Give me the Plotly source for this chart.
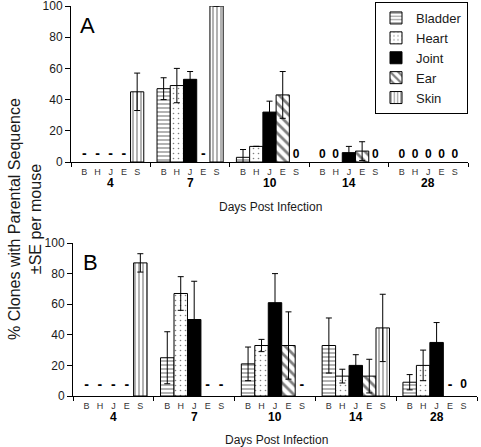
import plotly.graph_objects as go

# ---------------- data ----------------
days = ["4", "7", "10", "14", "28"]
organs = ["Bladder", "Heart", "Joint", "Ear", "Skin"]
organ_letters = ["B", "H", "J", "E", "S"]
yticks = [0, 20, 40, 60, 80, 100]

# Panel A  (None = no bar; label list gives the "-" / "0" markers)
a_bladder = [None, 47, 3, None, None]
a_bladder_se = [None, 7, 5, None, None]
a_bladder_lbl = ["-", "", "", "0", "0"]
a_heart = [None, 49, 10, None, None]
a_heart_se = [None, 11, None, None, None]
a_heart_lbl = ["-", "", "", "0", "0"]
a_joint = [None, 53, 32, 6, None]
a_joint_se = [None, 5, 7, 4, None]
a_joint_lbl = ["-", "", "", "", "0"]
a_ear = [None, None, 43, 7, None]
a_ear_se = [None, None, 15, 6, None]
a_ear_lbl = ["-", "-", "", "", "0"]
a_skin = [45, 100, None, None, None]
a_skin_se = [12, None, None, None, None]
a_skin_lbl = ["", "", "0", "0", "0"]

# Panel B
b_bladder = [None, 25, 21, 33, 9]
b_bladder_se = [None, 17, 11, 18, 5]
b_bladder_lbl = ["-", "", "", "", ""]
b_heart = [None, 67, 33, 13, 20]
b_heart_se = [None, 11, 4, 4.5, 10]
b_heart_lbl = ["-", "", "", "", ""]
b_joint = [None, 50, 61, 20, 35]
b_joint_se = [None, 25, 19, 7, 13]
b_joint_lbl = ["-", "", "", "", ""]
b_ear = [None, None, 33, 13, None]
b_ear_se = [None, None, 22, 11, None]
b_ear_lbl = ["-", "-", "", "", "-"]
b_skin = [87, None, None, 44.5, None]
b_skin_se = [6, None, None, 22, None]
b_skin_lbl = ["", "-", "-", "", "0"]

panel_a = [(a_bladder, a_bladder_se, a_bladder_lbl), (a_heart, a_heart_se, a_heart_lbl),
           (a_joint, a_joint_se, a_joint_lbl), (a_ear, a_ear_se, a_ear_lbl),
           (a_skin, a_skin_se, a_skin_lbl)]
panel_b = [(b_bladder, b_bladder_se, b_bladder_lbl), (b_heart, b_heart_se, b_heart_lbl),
           (b_joint, b_joint_se, b_joint_lbl), (b_ear, b_ear_se, b_ear_lbl),
           (b_skin, b_skin_se, b_skin_lbl)]

# ---------------- styles ----------------
FONT = "Arial, Liberation Sans, sans-serif"
TXT = "#1a1a1a"
patterns = [
    dict(shape="-", size=4, solidity=0.3, fgcolor="black", bgcolor="white", fillmode="overlay"),
    dict(shape=".", size=5, solidity=0.08, fgcolor="black", bgcolor="white", fillmode="overlay"),
    dict(shape="", fgcolor="black", bgcolor="black"),
    dict(shape="\\", size=7, solidity=0.4, fgcolor="black", bgcolor="white", fillmode="overlay"),
    dict(shape="|", size=4, solidity=0.3, fgcolor="black", bgcolor="white", fillmode="overlay"),
]
bar_colors = ["white", "white", "black", "white", "white"]

GROUP = 6  # slots per day group
def xpos(g, k):
    return g * GROUP + k + 1

fig = go.Figure()

text_y = {"x": 4.5, "x2": 7}
for pi, (panel, xa, ya) in enumerate([(panel_a, "x", "y"), (panel_b, "x2", "y2")]):
    dx, dy, dt = [], [], []   # dashes
    zx, zy, zt = [], [], []   # zeros
    for k, (vals, se, lbl) in enumerate(panel):
        xs = [xpos(g, k) for g in range(len(days))]
        fig.add_trace(go.Bar(
            x=xs, y=vals, width=1.0, name=organs[k],
            marker=dict(color=bar_colors[k], line=dict(color="black", width=1),
                        pattern=patterns[k]),
            error_y=dict(type="data", array=se, visible=True, color="black",
                         thickness=1, width=3),
            xaxis=xa, yaxis=ya, showlegend=(pi == 0),
        ))
        for g, s in enumerate(lbl):
            if s == "-":
                dx.append(xpos(g, k)); dy.append(text_y[xa]); dt.append(s)
            elif s:
                zx.append(xpos(g, k)); zy.append(text_y[xa]); zt.append(s)
    fig.add_trace(go.Scatter(
        x=dx, y=dy, text=dt, mode="text", xaxis=xa, yaxis=ya, showlegend=False,
        textfont=dict(family=FONT, size=14, color="black", weight="bold"),
        textposition="middle center", hoverinfo="skip",
    ))
    fig.add_trace(go.Scatter(
        x=zx, y=zy, text=zt, mode="text", xaxis=xa, yaxis=ya, showlegend=False,
        textfont=dict(family=FONT, size=12, color="black", weight="bold"),
        textposition="middle center", hoverinfo="skip",
    ))

W, H = 481, 447
organ_tickvals = [xpos(g, k) for g in range(len(days)) for k in range(len(organs))]
organ_ticktext = [organ_letters[k] for g in range(len(days)) for k in range(len(organs))]
sep_vals = [g * GROUP for g in range(len(days) + 1)]

xcommon = dict(range=[0, GROUP * len(days)], showline=True, linecolor="black", linewidth=1,
               tickvals=organ_tickvals, ticktext=organ_ticktext, ticks="",
               tickfont=dict(family=FONT, size=9, color="#333"), showgrid=False, zeroline=False,
               minor=dict(tickvals=sep_vals, ticks="outside", ticklen=4, tickcolor="black", tickwidth=1),
               ticklabelstandoff=1, fixedrange=True, automargin=False)
ycommon = dict(range=[0, 100], tickvals=yticks, showline=True, linecolor="black", linewidth=1,
               ticks="outside", ticklen=5, tickcolor="black", showgrid=False, zeroline=False,
               tickfont=dict(family=FONT, size=12, color=TXT), fixedrange=True, automargin=False,
               ticklabeloverflow="allow")

fig.update_layout(
    width=W, height=H, margin=dict(l=0, r=0, t=0, b=0, autoexpand=False),
    paper_bgcolor="white", plot_bgcolor="white", barmode="overlay",
    xaxis=dict(domain=[71 / W, 468 / W], anchor="y", **xcommon),
    yaxis=dict(domain=[1 - 162 / H, 1 - 6 / H], anchor="x", **ycommon),
    xaxis2=dict(domain=[73 / W, 477 / W], anchor="y2", **xcommon),
    yaxis2=dict(domain=[1 - 396 / H, 1 - 243 / H], anchor="x2", **ycommon),
    legend=dict(x=468 / W, y=1 - 2 / H, xanchor="right", yanchor="top",
                bgcolor="white", bordercolor="black", borderwidth=1,
                font=dict(family=FONT, size=13, color=TXT), itemwidth=30,
                tracegroupgap=0),
    showlegend=True,
)

ann = []
# y-axis title
ann.append(dict(text="% Clones with Parental Sequence<br>±SE per mouse", textangle=-90,
                xref="paper", yref="paper", x=25 / W, y=1 - 219 / H, showarrow=False,
                xanchor="center", yanchor="middle", font=dict(family=FONT, size=16, color=TXT)))
# panel letters
ann.append(dict(text="A", xref="paper", yref="paper", x=87.5 / W, y=1 - 26 / H, showarrow=False,
                xanchor="center", yanchor="middle", font=dict(family=FONT, size=22, color="black")))
ann.append(dict(text="B", xref="paper", yref="paper", x=90 / W, y=1 - 262 / H, showarrow=False,
                xanchor="center", yanchor="middle", font=dict(family=FONT, size=22, color="black")))
# day labels
for xa, yy in [("x", 1 - 183 / H), ("x2", 1 - 417 / H)]:
    for g, d in enumerate(days):
        ann.append(dict(text="<b>%s</b>" % d, xref=xa, yref="paper", x=g * GROUP + GROUP / 2,
                        y=yy, showarrow=False, xanchor="center", yanchor="middle",
                        font=dict(family=FONT, size=12, color="black")))
# axis titles
ann.append(dict(text="Days Post Infection", xref="paper", yref="paper", x=270 / W, y=1 - 207 / H,
                showarrow=False, xanchor="center", yanchor="middle",
                font=dict(family=FONT, size=12, color=TXT)))
ann.append(dict(text="Days Post Infection", xref="paper", yref="paper", x=276 / W, y=1 - 440 / H,
                showarrow=False, xanchor="center", yanchor="middle",
                font=dict(family=FONT, size=12, color=TXT)))
fig.update_layout(annotations=ann)

fig.write_html(
    "out.html",
    config={"displayModeBar": False, "staticPlot": True},
    post_script="document.body.style.margin='0';document.body.style.overflow='hidden';",
)
